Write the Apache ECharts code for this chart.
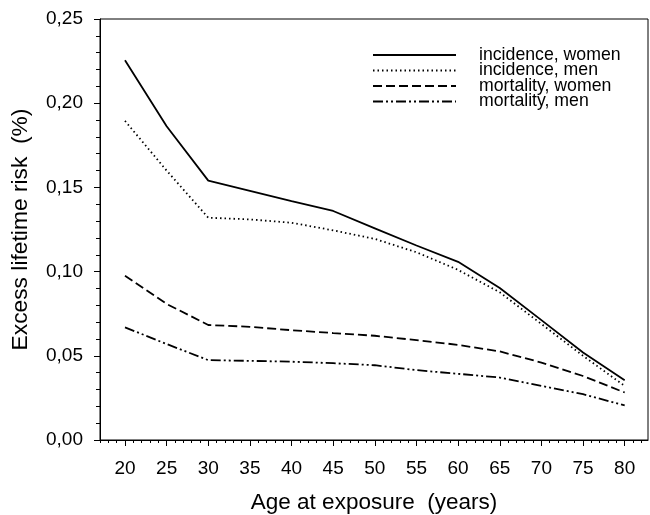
<!DOCTYPE html>
<html>
  <head>
    <meta charset="utf-8" />
    <script src="https://cdn.jsdelivr.net/npm/echarts@6/dist/echarts.min.js"></script>
  </head>
  <body>
    <style>
      html,
      body,
      #main {
        width: 100%;
        height: 100%;
        margin: 0;
        background: #fff;
      }
    </style>
    <div id="main"></div>
    <script>
      var chart = echarts.init(document.getElementById('main'));

      const ages = [20, 25, 30, 35, 40, 45, 50, 55, 60, 65, 70, 75, 80];
      const incidenceWomen = [0.2255, 0.1863, 0.154, 0.148, 0.1418, 0.136, 0.1257, 0.1155, 0.1058, 0.0903, 0.0712, 0.052, 0.0355];
      const incidenceMen = [0.1895, 0.160, 0.132, 0.131, 0.129, 0.1245, 0.1194, 0.1115, 0.101, 0.0877, 0.0689, 0.050, 0.0321];
      const mortalityWomen = [0.0976, 0.0808, 0.0683, 0.0672, 0.0652, 0.0635, 0.0619, 0.0593, 0.0565, 0.0526, 0.046, 0.038, 0.0282];
      const mortalityMen = [0.0669, 0.057, 0.0474, 0.047, 0.0465, 0.0456, 0.0444, 0.0415, 0.0393, 0.0371, 0.0321, 0.0272, 0.0205];
      const seriesNames = ['incidence, women', 'incidence, men', 'mortality, women', 'mortality, men'];
      const xLabels = [20, 25, 30, 35, 40, 45, 50, 55, 60, 65, 70, 75, 80];
      const xMinor = [17, 18, 19, 21, 22, 23, 24, 26, 27, 28, 29, 31, 32, 33, 34, 36, 37, 38, 39, 41, 42, 43, 44,
        46, 47, 48, 49, 51, 52, 53, 54, 56, 57, 58, 59, 61, 62, 63, 64, 66, 67, 68, 69, 71, 72, 73, 74,
        76, 77, 78, 79, 81, 82];

      function pairs(vals) {
        return ages.map(function (a, i) { return [a, vals[i]]; });
      }

      var font = 'Liberation Sans, Arial, sans-serif';

      function line(name, vals, type) {
        return {
          name: name,
          type: 'line',
          data: pairs(vals),
          symbol: 'none',
          animation: false,
          lineStyle: { color: '#000', width: 1.8, type: type },
          itemStyle: { color: '#000' }
        };
      }

      // one legend per row so the row spacing matches the original
      var legendRowCenters = [55, 70.5, 86, 101.5];
      var legends = seriesNames.map(function (name, i) {
        return {
          orient: 'vertical',
          left: 372,
          top: legendRowCenters[i] - 9,
          padding: 0,
          itemWidth: 83,
          itemHeight: 18,
          itemStyle: { opacity: 0 },
          lineStyle: { width: 2 },
          textStyle: { fontFamily: font, fontSize: 17.7, color: '#000', padding: [3, 0, 0, 18] },
          data: [name]
        };
      });

      var option = {
        backgroundColor: '#fff',
        animation: false,
        grid: {
          left: 100, top: 19, right: 2, bottom: 75,
          outerBoundsMode: 'none',
          containLabel: false,
          show: true, borderColor: '#000', borderWidth: 1
        },
        legend: legends,
        xAxis: [
          {
            type: 'value',
            min: 17,
            max: 82.8,
            name: 'Age at exposure  (years)',
            nameLocation: 'middle',
            nameGap: 51,
            nameTextStyle: { fontFamily: font, fontSize: 22.5, color: '#000' },
            splitLine: { show: false },
            axisLine: { lineStyle: { color: '#000', width: 1 } },
            axisTick: { customValues: xLabels, length: 6, lineStyle: { color: '#000' } },
            axisLabel: {
              customValues: xLabels, margin: 19,
              fontFamily: font, fontSize: 19, color: '#000'
            }
          },
          {
            type: 'value',
            min: 17,
            max: 82.8,
            position: 'bottom',
            splitLine: { show: false },
            axisLine: { show: false },
            axisLabel: { show: false },
            axisTick: { customValues: xMinor, length: 3, lineStyle: { color: '#000' } }
          }
        ],
        yAxis: {
          type: 'value',
          min: 0,
          max: 0.25,
          interval: 0.05,
          name: 'Excess lifetime risk  (%)',
          nameLocation: 'middle',
          nameGap: 68,
          nameTextStyle: { fontFamily: font, fontSize: 22.8, color: '#000' },
          splitLine: { show: false },
          axisLine: { show: true, lineStyle: { color: '#000', width: 1 } },
          axisTick: { show: true, length: 6, lineStyle: { color: '#000' } },
          minorTick: { show: true, splitNumber: 5, length: 4, lineStyle: { color: '#000' } },
          axisLabel: {
            margin: 17,
            fontFamily: font, fontSize: 19, color: '#000',
            formatter: function (v) { return v.toFixed(2).replace('.', ','); }
          }
        },
        series: [
          line(seriesNames[0], incidenceWomen, 'solid'),
          line(seriesNames[1], incidenceMen, [1.5, 3]),
          line(seriesNames[2], mortalityWomen, [9, 4]),
          line(seriesNames[3], mortalityMen, [10, 3, 2, 3, 2, 3])
        ]
      };

      chart.setOption(option);

      window.onresize = function () {
        chart.resize();
      };
    </script>
  </body>
</html>
